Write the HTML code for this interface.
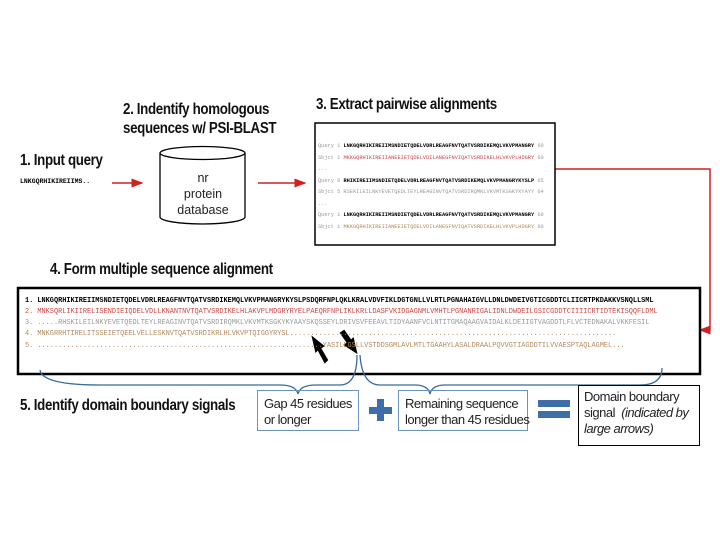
<!DOCTYPE html>
<html><head><meta charset="utf-8"><style>
body{margin:0;width:720px;height:540px;background:#fff;position:relative;overflow:hidden;font-family:"Liberation Sans",sans-serif}
.h{position:absolute;font-weight:bold;font-size:15.5px;color:#111;letter-spacing:-0.4px;line-height:19px;white-space:nowrap;transform:scaleX(0.86);transform-origin:0 0}
.m{position:absolute;font-family:"Liberation Mono",monospace;white-space:nowrap}
.al{font-size:5.3px;line-height:11.5px}
.ms{font-size:6.9px;line-height:11px;left:25px}
.b{font-weight:bold;color:#000}
.r{color:#c44}
.g{color:#999}
.br{color:#b08a60}
.box{position:absolute;box-sizing:border-box;font-size:13px;line-height:16px;color:#222;letter-spacing:-0.5px;white-space:nowrap}
</style></head><body>
<div class="h" style="left:123px;top:100px">2. Indentify homologous<br>sequences w/ PSI-BLAST</div>
<div class="h" style="left:316px;top:95px">3. Extract pairwise alignments</div>
<div class="h" style="left:20px;top:151px">1. Input query</div>
<div class="m b" style="left:20px;top:178px;font-size:6.5px">LNKGQRHIKIREIIMS..</div>
<div class="h" style="left:50px;top:260px">4. Form multiple sequence alignment</div>
<div class="h" style="left:20px;top:396px">5. Identify domain boundary signals</div>

<svg style="position:absolute;left:0;top:0" width="720" height="540">
<defs><marker id="a" markerWidth="8" markerHeight="8" refX="7" refY="4" orient="auto"><path d="M0,1 L8,4 L0,7 Z" fill="#c22"/></marker></defs>
<line x1="112" y1="183" x2="142" y2="183" stroke="#c22" stroke-width="1.5" marker-end="url(#a)"/>
<line x1="258" y1="183" x2="305" y2="183" stroke="#c22" stroke-width="1.5" marker-end="url(#a)"/>
<path d="M555,169 H710 V330 H700" fill="none" stroke="#c22" stroke-width="1.5" marker-end="url(#a)"/>
<path d="M160,153 V217 A42.5,7 0 0 0 245,217 V153" fill="#fff" stroke="#000" stroke-width="1.3"/>
<ellipse cx="202.5" cy="153" rx="42.5" ry="6.5" fill="#fff" stroke="#000" stroke-width="1.3"/>
<text x="203" y="182" font-size="12.5" text-anchor="middle" fill="#222" font-family="Liberation Sans">nr</text>
<text x="203" y="198" font-size="12.5" text-anchor="middle" fill="#222" font-family="Liberation Sans">protein</text>
<text x="203" y="214" font-size="12.5" text-anchor="middle" fill="#222" font-family="Liberation Sans">database</text>
<rect x="315" y="123" width="240" height="122" fill="none" stroke="#000" stroke-width="1.5"/>
<rect x="18" y="288" width="682" height="86" fill="none" stroke="#000" stroke-width="2.5"/>
<path d="M40,370 Q42,385 100,385 L280,385 Q296,385 298,394 Q300,385 316,385 L340,385 Q357,385 357,355" fill="none" stroke="#3a6a9a" stroke-width="1.3"/>
<path d="M360,355 Q362,385 380,385 L415,385 Q428,385 430,394 Q432,385 445,385 L640,385 Q662,385 662,368" fill="none" stroke="#3a6a9a" stroke-width="1.3"/>
<path d="M327,360 L320,348 L323,346 L313,338 L316,351 L318,349 L325,362 Z" fill="#000" stroke="#000" stroke-width="2"/>
<path d="M341,333 L348,343 L345,345 L356,352 L353,339 L351,341 L344,331 Z" fill="#000" stroke="#000" stroke-width="2"/>
<rect x="377" y="399" width="7" height="22" fill="#3d6ea8"/>
<rect x="369" y="407" width="23" height="7" fill="#3d6ea8"/>
<rect x="538" y="400" width="32" height="7" fill="#3d6ea8"/>
<rect x="538" y="411" width="32" height="7" fill="#3d6ea8"/>
</svg>

<div class="m al" style="left:318px;top:141px">
<span class="g">Query 1 </span><span class="b">LNKGQRHIKIREIIMSNDIETQDELVDRLREAGFNVTQATVSRDIKEMQLVKVPMANGRY</span><span class="g"> 60</span><br>
<span class="g">Sbjct 1 </span><span class="r">MKKGQRHIKIREIIANEEIETQDELVDILANEGFNVIQATVSRDIKELHLVKVPLHDGRY</span><span class="g"> 60</span><br>
<span class="g">...</span><br>
<span class="g">Query 6 </span><span class="b">RHIKIREIIMSNDIETQDELVDRLREAGFNVTQATVSRDIKEMQLVKVPMANGRYKYSLP</span><span class="g"> 65</span><br>
<span class="g">Sbjct 5 RSEKILEILNKYEVETQEDLTEYLREAGINVTQATVSRDIRQMKLVKVMTKSGKYKYAYY 64</span><br>
<span class="g">...</span><br>
<span class="g">Query 1 </span><span class="b">LNKGQRHIKIREIIMSNDIETQDELVDRLREAGFNVTQATVSRDIKEMQLVKVPMANGRY</span><span class="g"> 60</span><br>
<span class="g">Sbjct 1 </span><span class="br">MKKGQRHIKIREIIANEEIETQDELVDILANEGFNVIQATVSRDIKELHLVKVPLHDGRY</span><span class="g"> 60</span>
</div>

<div class="m ms b" style="top:296px">1. LNKGQRHIKIREIIMSNDIETQDELVDRLREAGFNVTQATVSRDIKEMQLVKVPMANGRYKYSLPSDQRFNPLQKLKRALVDVFIKLDGTGNLLVLRTLPGNAHAIGVLLDNLDWDEIVGTICGDDTCLIICRTPKDAKKVSNQLLSML</div>
<div class="m ms r" style="top:307px">2. MNKSQRLIKIIRELISENDIEIQDELVDLLKNANTNVTQATVSRDIKELHLAKVPLMDGRYRYELPAEQRFNPLIKLKRLLDASFVKIDGAGNMLVMHTLPGNANRIGALIDNLDWDEILGSICGDDTCIIIICRTIDTEKISQQFLDML</div>
<div class="m ms g" style="top:318px">3. .....RHSKILEILNKYEVETQEDLTEYLREAGINVTQATVSRDIRQMKLVKVMTKSGKYKYAAYSKQSSEYLDRIVSVFEEAVLTIDYAANFVCLNTITGMAQAAGVAIDALKLDEIIGTVAGDDTLFLVCTEDNAKALVKKFESIL</div>
<div class="m ms br" style="top:329px">4. MNKGRRHTIRELITSSEIETQEELVELLESKNVTQATVSRDIKRLHLVKVPTQIGGYRYSL...............................................................................</div>
<div class="m ms br" style="top:341px">5. .....................................................................YASILLGSLLVSTDDSGMLAVLMTLTGAAHYLASALDRAALPQVVGTIAGDDTILVVAESPTAQLAGMEL...</div>

<div class="box" style="left:257px;top:390px;width:102px;height:41px;border:1.5px solid #6a93bd;padding:5px 0 0 6px">Gap 45 residues<br>or longer</div>
<div class="box" style="left:398px;top:390px;width:130px;height:41px;border:1.5px solid #6a93bd;padding:5px 0 0 6px">Remaining sequence<br>longer than 45 residues</div>
<div class="box" style="left:578px;top:385px;width:122px;height:61px;border:1.5px solid #000;padding:3px 0 0 5px">Domain boundary<br>signal &nbsp;<i>(indicated by<br>large arrows)</i></div>
</body></html>
